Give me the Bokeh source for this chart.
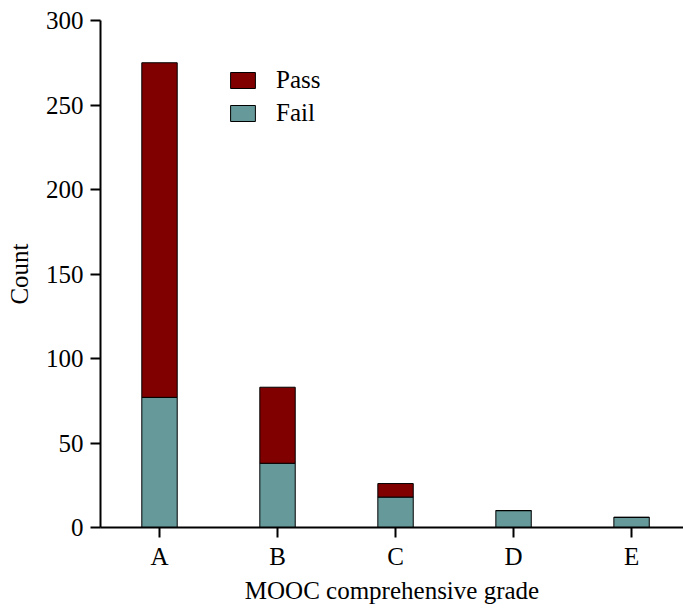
from bokeh.plotting import figure
from bokeh.models import ColumnDataSource, Range1d, FixedTicker, Legend, LegendItem
from bokeh.embed import file_html
from bokeh.resources import INLINE

grades = ["A", "B", "C", "D", "E"]
fail = [77, 38, 18, 10, 6]
pass_ = [198, 45, 8, 0, 0]

xs = list(range(len(grades)))
src = ColumnDataSource(dict(x=xs, fail=fail, passed=pass_))

FONT = "Liberation Serif"

p = figure(width=683, height=608, output_backend="svg", toolbar_location=None,
           x_range=Range1d(-0.5, 4.44), y_range=Range1d(0, 300),
           min_border_left=100, min_border_right=0, min_border_top=20, min_border_bottom=81)

r = p.vbar_stack(["fail", "passed"], x="x", width=0.3, source=src,
                 fill_color=["#669999", "#800000"], line_color="black", line_width=1)

p.xgrid.visible = False
p.ygrid.visible = False
p.outline_line_color = None
p.background_fill_color = "white"

p.xaxis.ticker = FixedTicker(ticks=xs)
p.xaxis.major_label_overrides = {i: g for i, g in enumerate(grades)}
p.yaxis.ticker = FixedTicker(ticks=[0, 50, 100, 150, 200, 250, 300])

for ax in (p.xaxis[0], p.yaxis[0]):
    ax.axis_line_width = 2
    ax.axis_line_color = "black"
    ax.major_tick_line_width = 2
    ax.major_tick_line_color = "black"
    ax.major_tick_out = 10
    ax.major_tick_in = 0
    ax.minor_tick_out = 0
    ax.minor_tick_in = 0
    ax.major_label_text_font = FONT
    ax.major_label_text_font_size = "25px"
    ax.major_label_text_color = "black"
    ax.axis_label_text_font = FONT
    ax.axis_label_text_font_size = "25px"
    ax.axis_label_text_font_style = "normal"
    ax.axis_label_text_color = "black"

p.xaxis.axis_label = "MOOC comprehensive grade"
p.yaxis.axis_label = "Count"
p.xaxis.major_label_standoff = 5
p.yaxis.major_label_standoff = 7
p.xaxis.axis_label_standoff = 4
p.yaxis.axis_label_standoff = 10

legend = Legend(items=[LegendItem(label="Pass", renderers=[r[1]]),
                       LegendItem(label="Fail", renderers=[r[0]])],
                location=(127, 400), padding=0, margin=0, spacing=5,
                glyph_width=31, glyph_height=20, label_standoff=18,
                label_text_font=FONT, label_text_font_size="25px",
                label_text_color="black",
                border_line_color=None, background_fill_alpha=0)
p.add_layout(legend)

open("out.html", "w").write(file_html(p, INLINE))
